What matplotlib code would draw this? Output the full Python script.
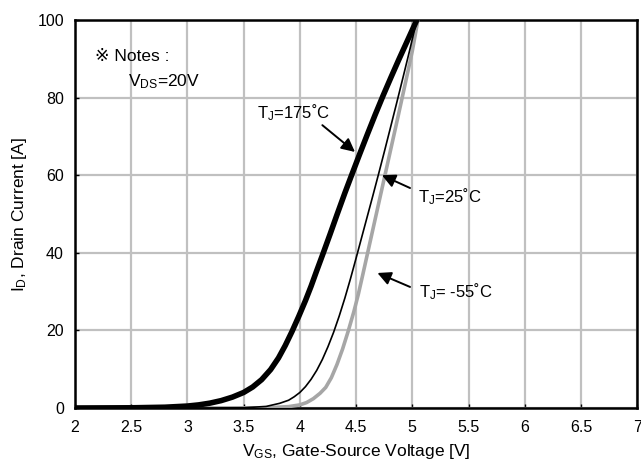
import numpy as np
import matplotlib
matplotlib.use("Agg")
import matplotlib.pyplot as plt

plt.rcParams['font.family'] = ['Liberation Sans', 'DejaVu Sans']
plt.rcParams['mathtext.fontset'] = 'custom'
plt.rcParams['mathtext.rm'] = 'Liberation Sans'
plt.rcParams['mathtext.it'] = 'Liberation Sans'

# transfer characteristics
vgs_175 = [2.0, 2.5, 2.8, 3.0, 3.1, 3.2, 3.3, 3.4, 3.5, 3.58, 3.66, 3.74, 3.81, 3.87, 3.93,
           3.99, 4.05, 4.10, 4.15, 4.21, 4.27, 4.33, 4.40, 4.46, 4.53, 4.60, 4.67, 4.74,
           4.81, 4.88, 4.96, 5.04]
id_175 = [0, 0.05, 0.2, 0.5, 0.8, 1.25, 1.9, 2.8, 4.0, 5.4, 7.3, 9.9, 12.9, 16.1, 19.7,
          23.6, 27.7, 31.4, 35.4, 40.1, 44.9, 49.8, 55.4, 60, 65.3, 70.5, 75.6, 80.5,
          85.2, 89.8, 94.9, 100]

vgs_25 = [2.0, 3.0, 3.5, 3.7, 3.82, 3.9, 3.95, 4.0, 4.05, 4.1, 4.15, 4.2, 4.25, 4.3, 4.35,
          4.4, 4.45, 4.50, 4.55, 4.60, 4.65, 4.70, 4.75, 4.80, 4.86, 4.92, 4.98, 5.04]
id_25 = [0, 0, 0.05, 0.4, 1.2, 2.0, 2.9, 4.0, 5.5, 7.4, 9.7, 12.5, 15.8, 19.5, 23.7,
         28.3, 33.3, 38.6, 44.0, 49.4, 54.8, 60.3, 65.9, 71.6, 78.5, 85.5, 92.6, 100]

vgs_m55 = [2.0, 3.0, 3.7, 3.9, 4.0, 4.06, 4.12, 4.18, 4.23, 4.28, 4.33, 4.38, 4.43, 4.48,
           4.52, 4.56, 4.60, 4.64, 4.68, 4.72, 4.76, 4.80, 4.84, 4.88, 4.92, 4.96, 5.00,
           5.05]
id_m55 = [0, 0, 0.05, 0.35, 0.8, 1.4, 2.4, 3.8, 5.3, 7.8, 11.2, 15.2, 19.8, 24.8,
          29.3, 34.4, 39.6, 44.8, 50, 55.2, 60.4, 65.6, 70.8, 76, 81.3, 86.6, 92,
          100]

x_ticks = [2, 2.5, 3, 3.5, 4, 4.5, 5, 5.5, 6, 6.5, 7]
x_labels = ["2", "2.5", "3", "3.5", "4", "4.5", "5", "5.5", "6", "6.5", "7"]
y_ticks = [0, 20, 40, 60, 80, 100]

fig = plt.figure(figsize=(6.41, 4.66), dpi=100)
ax = fig.add_axes([0.117, 0.1245, 0.877, 0.8325])

ax.plot(vgs_m55, id_m55, color='#a6a6a6', lw=2.6, zorder=3, solid_joinstyle='round')
ax.plot(vgs_25, id_25, color='black', lw=1.2, zorder=4, solid_joinstyle='round')
ax.plot(vgs_175, id_175, color='black', lw=4.0, zorder=5, solid_joinstyle='round')

ax.set_xlim(2, 7)
ax.set_ylim(0, 100)
ax.set_xticks(x_ticks)
ax.set_xticklabels(x_labels)
ax.set_yticks(y_ticks)
ax.grid(True, color='#c0c0c0', lw=1.6)
ax.set_axisbelow(True)
for s in ax.spines.values():
    s.set_linewidth(1.8)
ax.tick_params(direction='in', length=3, width=1, labelsize=11.5, pad=8)
ax.tick_params(axis='x', pad=9)

ax.set_xlabel("V$_{\\mathrm{GS}}$, Gate-Source Voltage [V]", fontsize=12.5, labelpad=5)
ax.set_ylabel("I$_{\\mathrm{D}}$, Drain Current [A]", fontsize=12.5, labelpad=6)

ax.text(2.178, 90.7, "\u203b Notes :", fontsize=12.5, va='center', ha='left')
ax.text(2.47, 84, "V$_{\\mathrm{DS}}$=20V", fontsize=12.5, va='center', ha='left')

arrow = dict(arrowstyle='-|>', color='black', lw=1.4, mutation_scale=20, shrinkA=0, shrinkB=0)
ax.text(3.94, 76, "T$_{\\mathrm{J}}$=175\u02daC", fontsize=12, va='center', ha='center')
ax.annotate('', xy=(4.49, 66), xytext=(4.20, 72.9), arrowprops=arrow, zorder=6)
ax.text(5.33, 54.4, "T$_{\\mathrm{J}}$=25\u02daC", fontsize=12, va='center', ha='center')
ax.annotate('', xy=(4.73, 60), xytext=(4.98, 56.7), arrowprops=arrow, zorder=6)
ax.text(5.39, 29.9, "T$_{\\mathrm{J}}$= -55\u02daC", fontsize=12, va='center', ha='center')
ax.annotate('', xy=(4.69, 34.8), xytext=(4.98, 31.2), arrowprops=arrow, zorder=6)

fig.savefig("out.png", dpi=100)
